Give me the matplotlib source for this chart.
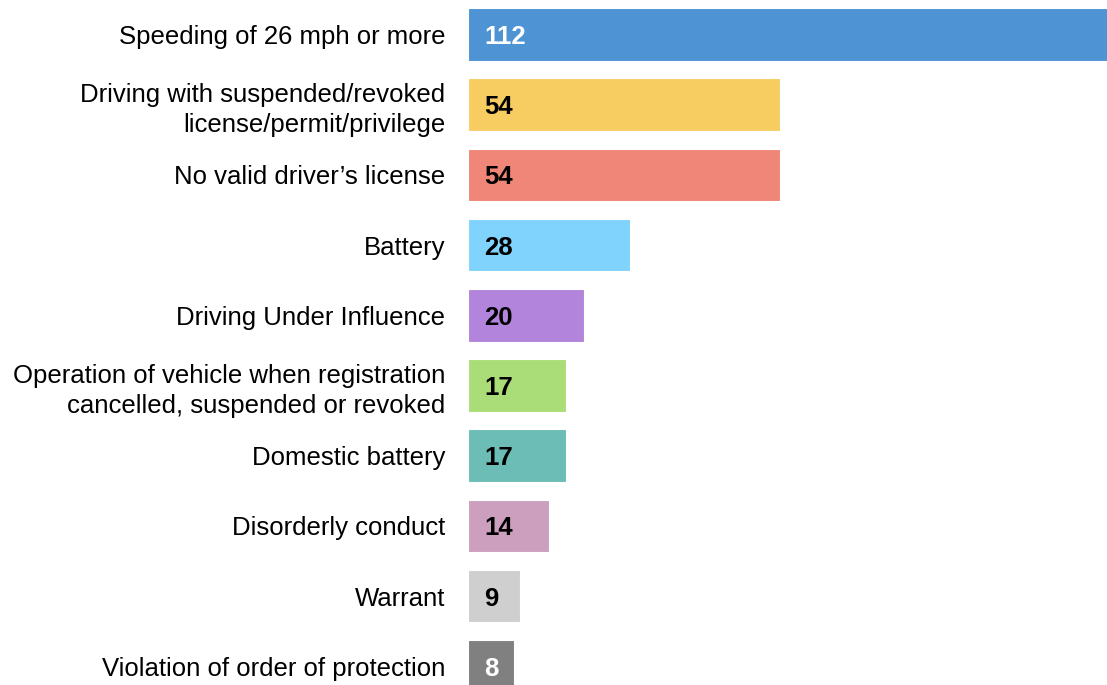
import matplotlib.pyplot as plt

plt.rcParams['font.family'] = ['Liberation Sans', 'DejaVu Sans']

categories = [
    "Speeding of 26 mph or more",
    "Driving with suspended/revoked\nlicense/permit/privilege",
    "No valid driver\u2019s license",
    "Battery",
    "Driving Under Influence",
    "Operation of vehicle when registration\ncancelled, suspended or revoked",
    "Domestic battery",
    "Disorderly conduct",
    "Warrant",
    "Violation of order of protection",
]
counts = [112, 54, 54, 28, 20, 17, 17, 14, 9, 8]
colors = ["#4E94D4", "#F7CD62", "#F08677", "#80D3FC", "#B384DC",
          "#AADD77", "#6BBDB5", "#CD9FBE", "#D0CFD0", "#808080"]
text_colors = ["white", "black", "black", "black", "black",
               "black", "black", "black", "black", "white"]

fig = plt.figure(figsize=(11.07, 6.85), dpi=100)
ax = fig.add_axes([468 / 1107, 0, 1 - 468 / 1107, 1])

pos = list(range(len(counts)))
ax.barh(pos, counts, height=0.75, color=colors, edgecolor="white", linewidth=0.8)

# values written inside the bars, near the left end
for i, v in enumerate(counts):
    ax.text(2.75, i, str(v), va="center_baseline", ha="left", fontsize=18.5,
            fontweight="bold", color=text_colors[i])

ax.set_xlim(0, (1107 - 468) / 5.78)
ax.set_ylim((685 - 34.5) / 70.2, -34.5 / 70.2)
ax.set_yticks(pos)
ax.set_yticklabels(categories, fontsize=18.5, linespacing=1.3)
ax.tick_params(axis="y", length=0, pad=16.5)
ax.set_xticks([])
for s in ax.spines.values():
    s.set_visible(False)

fig.savefig("out.png", dpi=100)
